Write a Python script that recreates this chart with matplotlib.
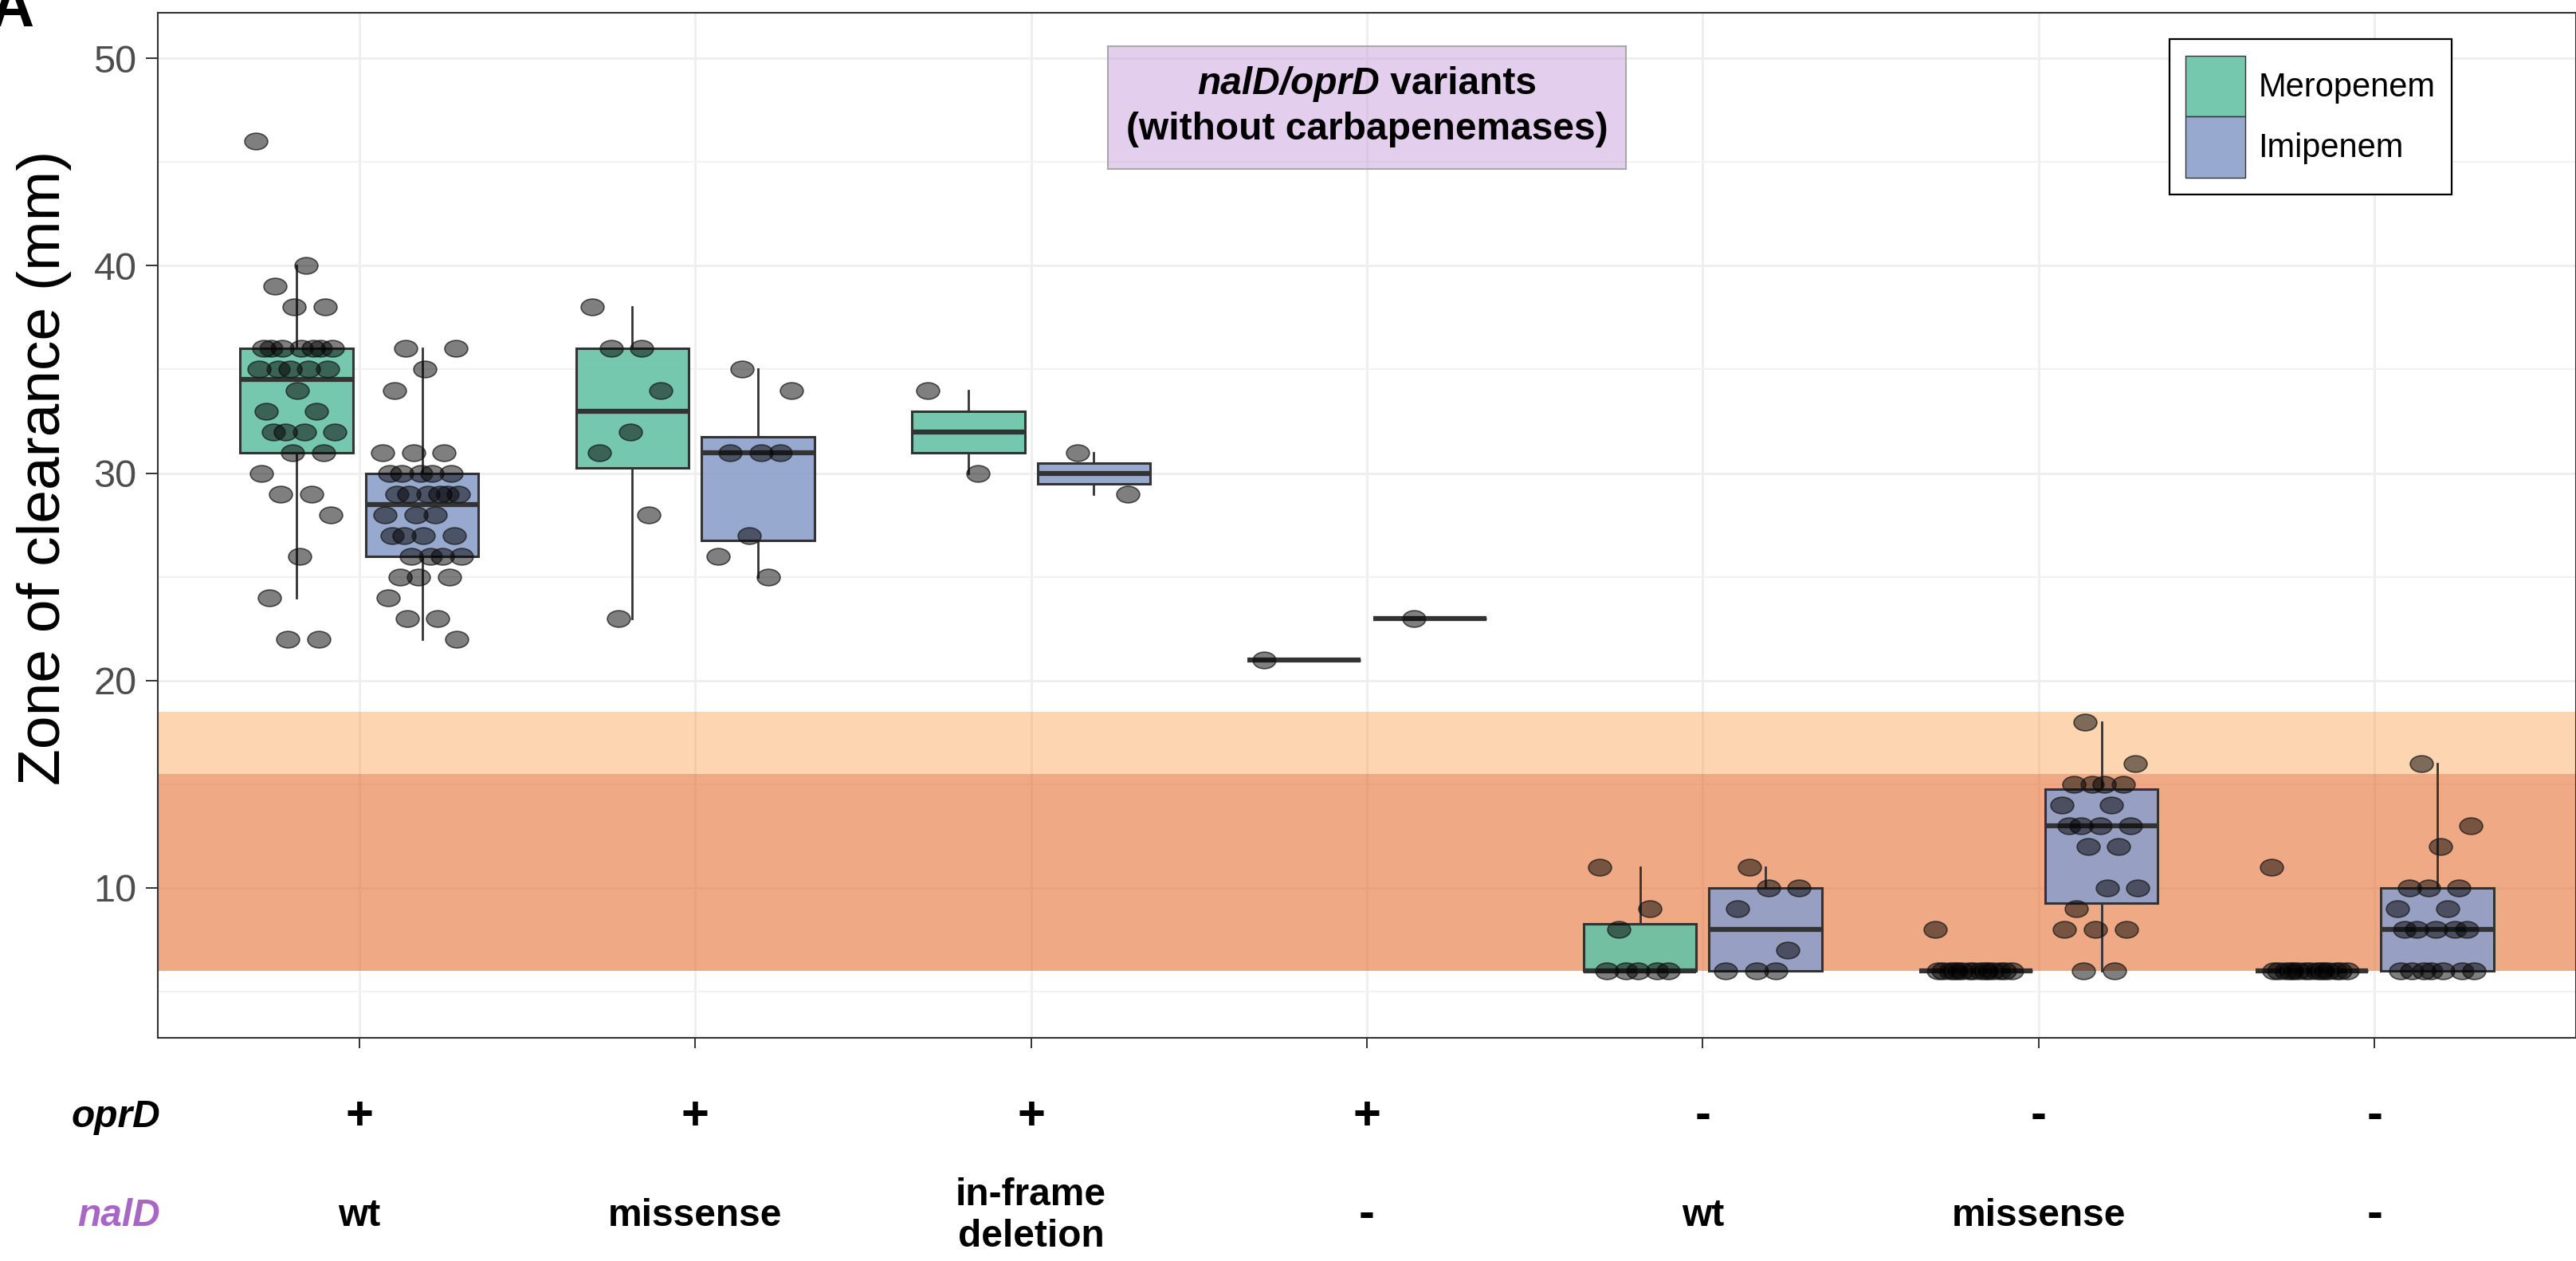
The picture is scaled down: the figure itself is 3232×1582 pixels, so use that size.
import matplotlib
matplotlib.use('Agg')
import matplotlib.pyplot as plt
import numpy as np
from matplotlib.patches import Rectangle, Patch
from matplotlib.path import Path
from matplotlib.transforms import blended_transform_factory
from matplotlib.colors import to_rgba

plt.rcParams['font.family'] = ['Liberation Sans', 'DejaVu Sans']

# --- data -------------------------------------------------------------
oprd_labels = ['+', '+', '+', '+', '-', '-', '-']
nald_labels = ['wt', 'missense', 'in-frame\ndeletion', '-', 'wt', 'missense', '-']
drugs = ['Meropenem', 'Imipenem']

meropenem = [
    [46, 40, 39, 38, 38, 36, 36, 36, 36, 36, 36, 36, 35, 35, 35, 35, 35, 34,
     33, 33, 32, 32, 32, 32, 31, 31, 30, 29, 29, 28, 26, 24, 22, 22],
    [38, 36, 36, 34, 32, 31, 28, 23],
    [34, 30],
    [21],
    [11, 9, 8, 6, 6, 6, 6, 6],
    [8, 6, 6, 6, 6, 6, 6, 6, 6, 6, 6, 6, 6, 6, 6, 6],
    [11, 6, 6, 6, 6, 6, 6, 6, 6, 6, 6, 6, 6, 6, 6, 6],
]
imipenem = [
    [36, 36, 35, 34, 31, 31, 31, 30, 30, 30, 30, 30, 29, 29, 29, 29, 29, 29,
     28, 28, 28, 27, 27, 27, 27, 26, 26, 26, 26, 25, 25, 25, 24, 23, 23, 22],
    [35, 34, 31, 31, 31, 27, 26, 25],
    [31, 29],
    [23],
    [11, 10, 10, 9, 7, 6, 6, 6],
    [18, 16, 15, 15, 15, 15, 14, 14, 13, 13, 13, 13, 12, 12, 10, 10, 9, 8, 8, 8, 6, 6],
    [16, 13, 12, 10, 10, 10, 9, 9, 8, 8, 8, 8, 8, 6, 6, 6, 6, 6, 6, 6],
]

# breakpoint bands (mm)
band_light = (15.5, 18.5)
band_dark = (6, 15.5)

colors = ['#66c2a5', '#8da0cb']
W, H = 3232, 1582

fig = plt.figure(figsize=(W / 100, H / 100), dpi=100)
ax = fig.add_axes([198 / W, 1 - 1302 / H, 1 - 198 / W, (1302 - 16) / H])

x = np.arange(1, len(oprd_labels) + 1)
offset = 0.187
box_w = 0.336

# grid
ax.set_axisbelow(True)
ax.set_yticks([10, 20, 30, 40, 50])
ax.set_yticks([5, 15, 25, 35, 45], minor=True)
ax.set_xticks(x)
ax.grid(which='major', color='#EEEEEE', linewidth=2.0)
ax.grid(which='minor', axis='y', color='#F2F2F2', linewidth=1.4)

# resistance bands
ax.axhspan(*band_light, facecolor='#FA963C', alpha=0.4, linewidth=0, zorder=0.8)
ax.axhspan(*band_dark, facecolor='#E67034', alpha=0.6, linewidth=0, zorder=0.8)

# ellipse marker like the reference points
circ = Path.unit_circle()
ell = Path(circ.vertices * np.array([1.0, 0.72]), circ.codes)

for k, (data, col) in enumerate(zip([meropenem, imipenem], colors)):
    pos = x + (-offset if k == 0 else offset)
    bp = ax.boxplot(data, positions=pos, widths=box_w, patch_artist=True,
                    showcaps=False, showfliers=False, whis=1.5,
                    manage_ticks=False,
                    boxprops=dict(facecolor=to_rgba(col, 0.9), edgecolor='#333333', linewidth=2.2),
                    whiskerprops=dict(color='#333333', linewidth=2.0),
                    medianprops=dict(color='#333333', linewidth=4.5, solid_capstyle='butt'))
    for b in bp['boxes']:
        b.set_zorder(2)
    # jittered points (deterministic spread)
    for p, vals in zip(pos, data):
        n = len(vals)
        jit = ((np.arange(n) * 0.618034 + 0.3 * k) % 1 - 0.5) * 0.24
        ax.scatter(p + jit, vals, s=430, marker=ell, facecolor=(0, 0, 0, 0.5),
                   edgecolor=(0.1, 0.1, 0.1, 0.75), linewidth=1.2, zorder=3)

ax.set_xlim(0.4, 7.6)
ax.set_ylim(2.77, 52.2)

for s in ax.spines.values():
    s.set_color('#333333')
    s.set_linewidth(1.5)

ax.tick_params(axis='y', which='major', length=11, width=1.4, color='#333333',
               labelsize=35, labelcolor='#4D4D4D', pad=8)
ax.tick_params(axis='y', which='minor', length=0)
ax.tick_params(axis='x', length=9, width=1.4, color='#333333', labelbottom=False)

ax.set_ylabel('Zone of clearance (mm)', fontsize=54, color='black')
ax.yaxis.set_label_coords((56 - 198) / (W - 198), (1302 - 587) / 1286)
ax.yaxis.label.set_verticalalignment('center')

# title box
ax.add_patch(Rectangle((3.228, 44.68), 1.544, 5.89, facecolor=to_rgba('#C9A0DC', 0.5),
                       edgecolor='#A8A8A8', linewidth=1.5, zorder=1))
fig.canvas.draw()
r = fig.canvas.get_renderer()
t1 = ax.text(0, 48.75, 'nalD/oprD', fontsize=34.5, fontweight='bold', fontstyle='italic',
             ha='left', va='center', zorder=4)
t2 = ax.text(0, 48.75, ' variants', fontsize=34.5, fontweight='bold', ha='left', va='center', zorder=4)
w1 = t1.get_window_extent(r).width
w2 = t2.get_window_extent(r).width
ppu = ax.transData.transform((1, 0))[0] - ax.transData.transform((0, 0))[0]
x0 = 4 - (w1 + w2) / 2 / ppu
t1.set_x(x0)
t2.set_x(x0 + w1 / ppu)
ax.text(4, 46.55, '(without carbapenemases)', fontsize=34.5, fontweight='bold',
        ha='center', va='center', zorder=4)

# legend
handles = [Patch(facecolor=to_rgba(c, 0.9), edgecolor='#333333', linewidth=1, label=l)
           for c, l in zip(colors, drugs)]
leg = ax.legend(handles=handles, loc='upper right', bbox_to_anchor=(3076 / W, 1 - 49 / H),
                bbox_transform=fig.transFigure, fontsize=30, handlelength=1.78,
                handleheight=2.45, labelspacing=0, handletextpad=0.4, borderpad=0.5,
                borderaxespad=0, fancybox=False, framealpha=1, edgecolor='black')
leg.get_frame().set_linewidth(1.6)

# genotype rows under the axis
tr = blended_transform_factory(ax.transData, fig.transFigure)
y_opr = 1 - 1401 / H
y_nal = 1 - 1525 / H
fig.text(201 / W, y_opr, 'oprD', fontsize=34.5, fontweight='bold', fontstyle='italic',
         ha='right', va='center')
fig.text(201 / W, y_nal, 'nalD', fontsize=34.5, fontweight='bold', fontstyle='italic',
         color='#A866C6', ha='right', va='center')
for xi, o, nl in zip(x, oprd_labels, nald_labels):
    ax.text(xi, y_opr, o, transform=tr, fontsize=43, fontweight='bold', ha='center', va='center')
    fs = 43 if nl == '-' else 34.5
    ax.text(xi, y_nal, nl, transform=tr, fontsize=fs, fontweight='bold', ha='center',
            va='center', linespacing=1.2)

fig.text(-0.004, 1 - 33 / H, 'A', fontsize=55, fontweight='bold', ha='left', va='baseline')

fig.savefig('out.png', dpi=100)
